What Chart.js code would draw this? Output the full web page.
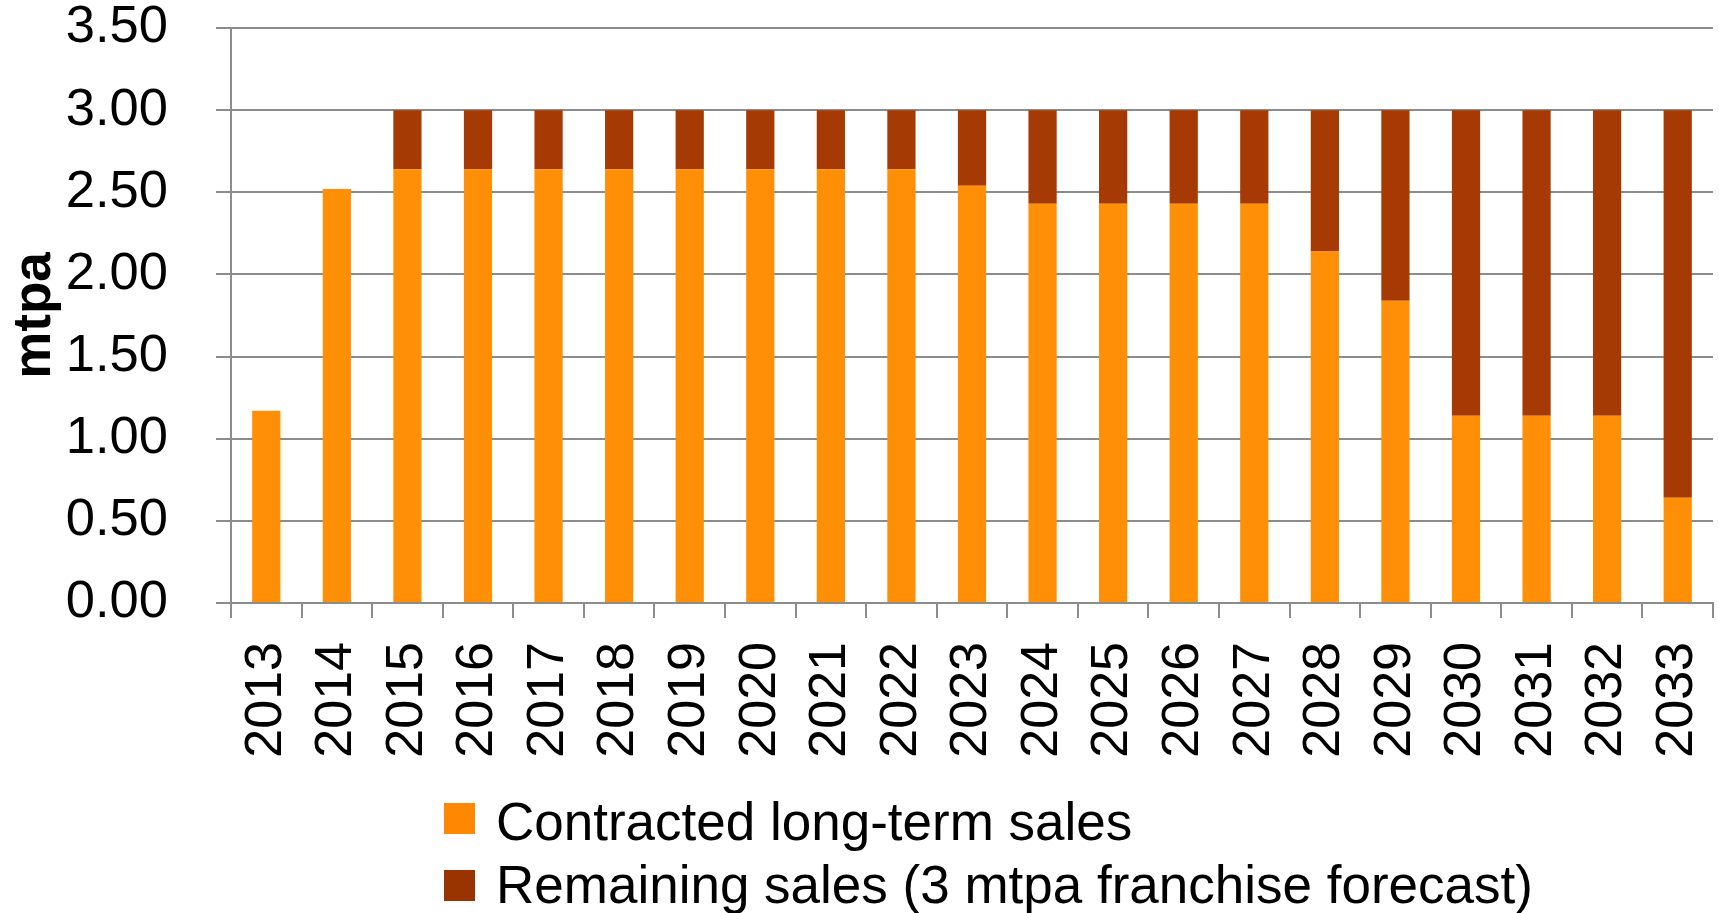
<!DOCTYPE html>
<html>
<head>
<meta charset="utf-8">
<script src="https://cdn.jsdelivr.net/npm/chart.js@4.4.1/dist/chart.umd.min.js"></script>
<style>
  html, body { margin: 0; padding: 0; background: #ffffff; }
  #wrap { position: relative; width: 1719px; height: 913px; }
  #wrap canvas { position: absolute; left: 0; top: 0; }
  .lg-sw { position: absolute; width: 31px; height: 31px; }
  .lg-tx { position: absolute; font-family: "Liberation Sans", Arial, sans-serif; font-size: 53px;
           line-height: 53px; color: #000; white-space: nowrap; }
</style>
</head>
<body>
<div id="wrap">
  <canvas id="chart" width="1719" height="913"></canvas>
  <div id="legend"></div>
</div>
<script>
// Sales volumes by year (million tonnes per annum)
const years = ['2013', '2014', '2015', '2016', '2017', '2018', '2019', '2020', '2021', '2022', '2023',
               '2024', '2025', '2026', '2027', '2028', '2029', '2030', '2031', '2032', '2033'];
const contracted = [1.17, 2.52, 2.64, 2.64, 2.64, 2.64, 2.64, 2.64, 2.64, 2.64, 2.54,
                    2.43, 2.43, 2.43, 2.43, 2.14, 1.84, 1.14, 1.14, 1.14, 0.64];
const remaining = [null, null, 0.36, 0.36, 0.36, 0.36, 0.36, 0.36, 0.36, 0.36, 0.46,
                   0.57, 0.57, 0.57, 0.57, 0.86, 1.16, 1.86, 1.86, 1.86, 2.36];
const seriesNames = ['Contracted long-term sales', 'Remaining sales (3 mtpa franchise forecast)'];
const yTicks = [0, 0.5, 1, 1.5, 2, 2.5, 3, 3.5];

const FONT = '"Liberation Sans", Arial, sans-serif';
const GRID = '#8c8c8c';
const barColors = ['#FF8F07', '#A63A04'];
const swatchColors = ['#FF8800', '#993300'];

new Chart(document.getElementById('chart'), {
  type: 'bar',
  data: {
    labels: years,
    datasets: [
      { label: seriesNames[0], data: contracted, backgroundColor: barColors[0],
        categoryPercentage: 1.0, barPercentage: 0.4 },
      { label: seriesNames[1], data: remaining, backgroundColor: barColors[1],
        categoryPercentage: 1.0, barPercentage: 0.4 }
    ]
  },
  options: {
    responsive: false,
    animation: false,
    layout: { padding: { top: 28, right: 6, bottom: 150, left: 0 } },
    plugins: { legend: { display: false }, tooltip: { enabled: false } },
    scales: {
      x: {
        stacked: true,
        grid: { display: true, drawOnChartArea: false, drawTicks: true, tickLength: 15,
                color: GRID, lineWidth: 2, offset: true },
        border: { display: true, color: GRID, width: 2 },
        ticks: { color: '#000', font: { family: FONT, size: 52, lineHeight: 1 },
                 minRotation: 90, maxRotation: 90, padding: 24, autoSkip: false },
        afterFit: (s) => { s.height = 160; s.paddingLeft = 0; s.paddingRight = 0; }
      },
      y: {
        stacked: true,
        min: 0, max: 3.5,
        afterBuildTicks: (s) => { s.ticks = yTicks.map(v => ({ value: v })); },
        grid: { color: GRID, lineWidth: 2, drawTicks: true, tickLength: 15 },
        border: { display: true, color: GRID, width: 2 },
        ticks: { color: '#000', font: { family: FONT, size: 52.5, lineHeight: 1 }, padding: 48,
                 callback: (v) => Number(v).toFixed(2) },
        title: { display: true, text: 'mtpa', color: '#000',
                 font: { family: FONT, size: 53, weight: 'bold', lineHeight: 1 },
                 padding: { top: 9, bottom: 0 } },
        afterFit: (s) => { s.width = 231; s.paddingTop = 0; s.paddingBottom = 0; }
      }
    }
  }
});

// Legend: one row per series, left-aligned
const legend = document.getElementById('legend');
const swatchTops = [803, 870];
const textTops = [795, 858];
seriesNames.forEach((name, i) => {
  const sw = document.createElement('div');
  sw.className = 'lg-sw';
  sw.style.left = '444px';
  sw.style.top = swatchTops[i] + 'px';
  sw.style.background = swatchColors[i];
  legend.appendChild(sw);
  const tx = document.createElement('div');
  tx.className = 'lg-tx';
  tx.style.left = '496px';
  tx.style.top = textTops[i] + 'px';
  tx.textContent = name;
  legend.appendChild(tx);
});
</script>
</body>
</html>
